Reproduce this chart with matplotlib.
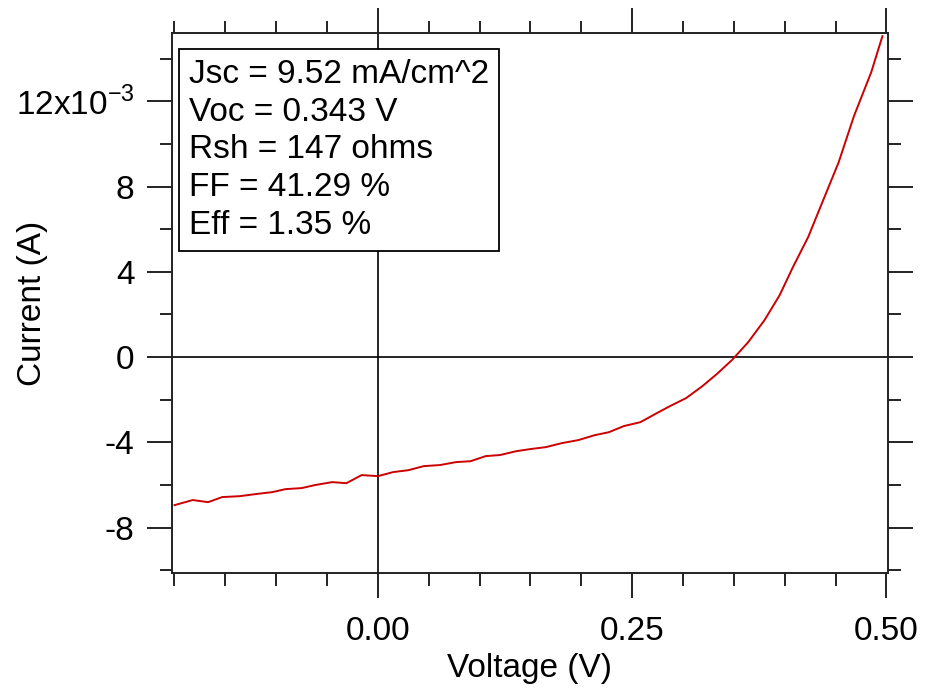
import matplotlib
matplotlib.use("Agg")
import matplotlib.pyplot as plt
from matplotlib.ticker import MultipleLocator, FuncFormatter

plt.rcParams['font.family'] = ['Liberation Sans', 'DejaVu Sans']

# I-V data (voltage in V, current in mA)
voltage = [-0.200, -0.182, -0.167, -0.153, -0.136, -0.120, -0.104, -0.091, -0.075, -0.062,
           -0.045, -0.031, -0.016, 0.000, 0.015, 0.030, 0.045, 0.061, 0.077, 0.091,
           0.106, 0.120, 0.136, 0.150, 0.165, 0.181, 0.197, 0.213, 0.227, 0.242,
           0.258, 0.274, 0.287, 0.303, 0.319, 0.333, 0.348, 0.364, 0.380, 0.395,
           0.408, 0.423, 0.437, 0.453, 0.468, 0.485, 0.496]
current_mA = [-6.94, -6.70, -6.80, -6.56, -6.52, -6.42, -6.33, -6.19, -6.14, -6.00,
              -5.86, -5.91, -5.53, -5.58, -5.39, -5.30, -5.11, -5.06, -4.92, -4.88,
              -4.64, -4.59, -4.41, -4.31, -4.22, -4.03, -3.89, -3.66, -3.52, -3.23,
              -3.05, -2.63, -2.30, -1.92, -1.36, -0.80, -0.14, 0.70, 1.73, 2.91,
              4.22, 5.63, 7.27, 9.14, 11.30, 13.36, 15.05]
current = [c * 1e-3 for c in current_mA]

info = ["Jsc = 9.52 mA/cm^2", "Voc = 0.343 V", "Rsh = 147 ohms", "FF = 41.29 %", "Eff = 1.35 %"]

fig = plt.figure(figsize=(9.32, 6.93), dpi=100)
ax = fig.add_axes([0.1845, 0.1732, 0.7683, 0.7792])

ax.axhline(0, color="black", lw=1.2, zorder=1)
ax.axvline(0, color="black", lw=1.2, zorder=1)
ax.plot(voltage, current, color="#cc0000", lw=1.4, zorder=2)

ax.set_xlim(-0.2025, 0.5015)
ax.set_ylim(-10.12e-3, 15.2e-3)

ax.xaxis.set_major_locator(MultipleLocator(0.25))
ax.xaxis.set_minor_locator(MultipleLocator(0.05))
ax.yaxis.set_major_locator(MultipleLocator(4e-3))
ax.yaxis.set_minor_locator(MultipleLocator(2e-3))
ax.xaxis.set_major_formatter(FuncFormatter(lambda v, p: "%.2f" % v))


def yfmt(v, p):
    n = int(round(v * 1e3))
    if n == 12:
        return r"12x10$^{\mathregular{-3}}$"
    return str(n)


ax.yaxis.set_major_formatter(FuncFormatter(yfmt))

ax.tick_params(which="both", direction="out", top=True, right=True, width=1.4,
               labelsize=24, color="#222222")
ax.tick_params(which="major", length=18)
ax.tick_params(axis="x", which="major", pad=13)
ax.tick_params(axis="y", which="major", pad=9)
ax.tick_params(which="minor", length=9)
for s in ax.spines.values():
    s.set_linewidth(1.4)
    s.set_color("#222222")

ax.set_xlabel("Voltage (V)", fontsize=24, labelpad=4)
ax.set_ylabel("Current (A)", fontsize=24, va="center")
ax.yaxis.set_label_coords(-0.195, 0.5)

ax.text(0.024, 0.952, "\n".join(info), transform=ax.transAxes, fontsize=24,
        va="top", ha="left", linespacing=1.28,
        bbox=dict(boxstyle="square,pad=0.3", facecolor="white", edgecolor="black", lw=1.3))

fig.savefig("out.png", dpi=100)
